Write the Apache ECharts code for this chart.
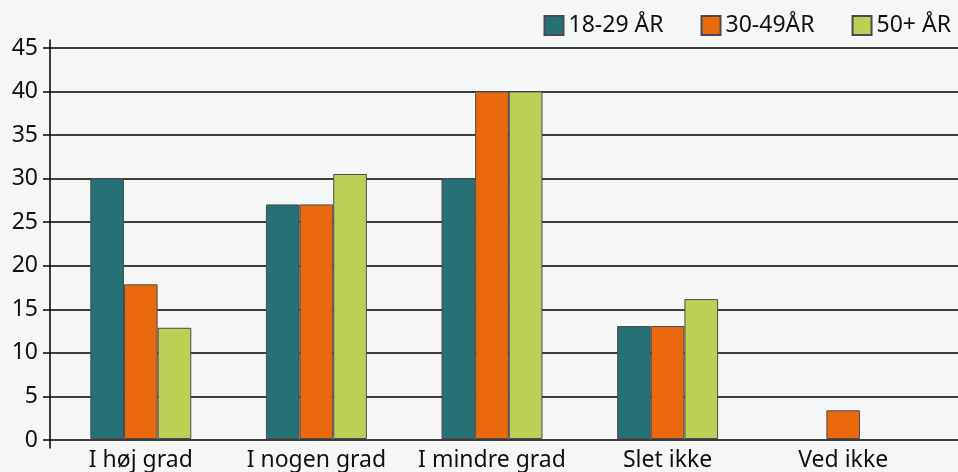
<!DOCTYPE html>
<html><head><meta charset="utf-8">
<script src="https://cdn.jsdelivr.net/npm/echarts@6/dist/echarts.min.js"></script>
<style>html,body{margin:0;padding:0;background:#f5f7f7}#c{width:958px;height:472px}</style>
</head><body><div id="c"></div>
<script>
const categories = ['I høj grad', 'I nogen grad', 'I mindre grad', 'Slet ikke', 'Ved ikke'];
const seriesNames = ['18-29 ÅR', '30-49ÅR', '50+ ÅR'];
const age18_29 = [30, 27, 30, 13, null];
const age30_49 = [17.8, 27, 40, 13, 3.3];
const age50plus = [12.8, 30.5, 40, 16.1, null];
const yTicks = [0, 5, 10, 15, 20, 25, 30, 35, 40, 45];
const colors = ['#267173', '#ea690c', '#bdd055'];

const font = '"Noto Sans", "Open Sans", sans-serif';
const FS = 23;
const chart = echarts.init(document.getElementById('c'), null, {renderer: 'canvas'});
const values = [age18_29, age30_49, age50plus];
chart.setOption({
  backgroundColor: '#f5f7f7',
  animation: false,
  textStyle: {fontFamily: font},
  legend: {
    top: 9, right: 2, itemWidth: 19, itemHeight: 19, itemGap: 37, icon: 'rect',
    textStyle: {fontSize: FS, color: '#111', fontFamily: font},
    data: seriesNames
  },
  grid: [
    {left: 50, right: 0, top: 48, bottom: 32},
    {left: 53, right: 27, top: 48, bottom: 32},
    {left: 50, right: 0, top: 40, bottom: 24}
  ],
  xAxis: [
    {gridIndex: 0, type: 'category', data: categories, show: false},
    {gridIndex: 1, type: 'category', data: categories,
      axisLine: {show: false}, axisTick: {show: false},
      axisLabel: {fontSize: FS, color: '#111', margin: 10, interval: 0, hideOverlap: false, fontFamily: font}},
    {gridIndex: 2, type: 'category', data: categories, show: false}
  ],
  yAxis: [
    {gridIndex: 0, type: 'value', min: yTicks[0], max: yTicks[yTicks.length-1], interval: 5,
      axisLine: {show: false},
      axisTick: {show: true, inside: false, length: 7, lineStyle: {color: '#000', width: 1.5}},
      axisLabel: {fontSize: FS, color: '#111', margin: 12, fontFamily: font},
      splitLine: {show: true, lineStyle: {color: '#000', width: 1.5}}},
    {gridIndex: 1, type: 'value', min: 0, max: 45, interval: 5, show: false, splitLine: {show: false}},
    {gridIndex: 2, type: 'value', min: 0, max: 1, axisLine: {show: true, lineStyle: {color: '#000', width: 1.5}},
      axisTick: {show: false}, axisLabel: {show: false}, splitLine: {show: false}}
  ],
  series: seriesNames.map((n, i) => ({
    name: n, type: 'bar', xAxisIndex: 1, yAxisIndex: 1,
    data: values[i], barGap: '0%', barCategoryGap: '42.5%',
    itemStyle: {color: colors[i], borderColor: '#4a4a52', borderWidth: 1}
  }))
});
</script></body></html>
